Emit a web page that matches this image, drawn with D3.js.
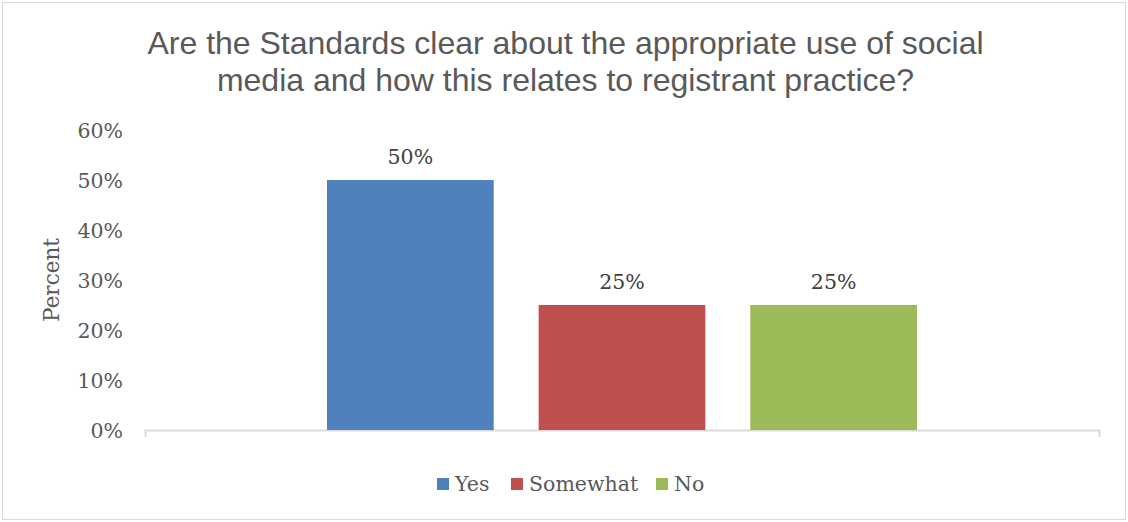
<!DOCTYPE html>
<html>
<head>
<meta charset="utf-8">
<script src="https://cdn.jsdelivr.net/npm/d3@7"></script>
<style>
  html, body { margin: 0; padding: 0; background: #ffffff; }
  svg { display: block; }
</style>
</head>
<body>
<svg id="chart" width="1128" height="522"></svg>
<script>
// Survey responses
const category = "Response";
const seriesNames = ["Yes", "Somewhat", "No"];
const seriesValues = [0.50, 0.25, 0.25];
const seriesColors = ["#4F81BD", "#C0504D", "#9BBB59"];
const yTicks = [0, 0.1, 0.2, 0.3, 0.4, 0.5, 0.6];
const titleLines = [
  "Are the Standards clear about the appropriate use of social",
  "media and how this relates to registrant practice?"
];
const yAxisTitle = "Percent";

const svg = d3.select("#chart");
const W = 1128, H = 522;
const plot = { left: 145, right: 1099, top: 130, bottom: 430 };
const serif = "'DejaVu Serif', serif";
const textColor = "#595959";

// outer chart frame
svg.append("rect")
  .attr("x", 2.5).attr("y", 2.5)
  .attr("width", W - 5).attr("height", H - 5)
  .attr("fill", "#fff")
  .attr("stroke", "#d9d9d9").attr("stroke-width", 1);

// title
const title = svg.append("text")
  .attr("text-anchor", "middle")
  .attr("font-family", "'Liberation Sans', Arial, sans-serif")
  .attr("font-size", 32)
  .attr("fill", textColor);
titleLines.forEach((line, i) => {
  title.append("tspan").attr("x", 565.5).attr("y", 54 + i * 37).text(line);
});

// scales
const y = d3.scaleLinear().domain([0, 0.6]).range([plot.bottom, plot.top]);
const x0 = d3.scaleBand().domain([category])
  .range([plot.left, plot.right]).paddingInner(0).paddingOuter(0.3085);
const x1 = d3.scaleBand().domain(seriesNames)
  .range([0, x0.bandwidth()]).paddingInner(0.2123).paddingOuter(0);
const color = d3.scaleOrdinal().domain(seriesNames).range(seriesColors);

// y axis labels (no axis line)
const yAxis = d3.axisLeft(y).tickValues(yTicks)
  .tickFormat(d3.format(".0%")).tickSize(0).tickPadding(0);
const yg = svg.append("g").attr("transform", `translate(123,0)`).call(yAxis);
yg.select(".domain").remove();
yg.selectAll("text")
  .attr("font-family", serif).attr("font-size", 20.5)
  .attr("fill", textColor).attr("dy", "0.36em");

// y axis title
svg.append("text")
  .attr("transform", `translate(59,280) rotate(-90)`)
  .attr("text-anchor", "middle")
  .attr("font-family", serif).attr("font-size", 21.5)
  .attr("fill", textColor)
  .text(yAxisTitle);

// x axis baseline with end ticks
const xAxis = d3.axisBottom(x0).tickValues([]).tickSizeOuter(7);
const xg = svg.append("g").attr("transform", `translate(0,${plot.bottom})`).call(xAxis);
xg.select(".domain").attr("stroke", "#d9d9d9").attr("stroke-width", 2);

// bars
const data = seriesNames.map((name, i) => ({ name, value: seriesValues[i] }));
const group = svg.append("g").attr("transform", `translate(${x0(category)},0)`);
group.selectAll("rect").data(data).join("rect")
  .attr("x", d => x1(d.name))
  .attr("y", d => y(d.value))
  .attr("width", x1.bandwidth())
  .attr("height", d => y(0) - y(d.value))
  .attr("fill", d => color(d.name));

// data labels
group.selectAll("text.label").data(data).join("text")
  .attr("class", "label")
  .attr("x", d => x1(d.name) + x1.bandwidth() / 2)
  .attr("y", d => y(d.value) - 16)
  .attr("text-anchor", "middle")
  .attr("font-family", serif).attr("font-size", 20.5)
  .attr("fill", "#404040")
  .text(d => d3.format(".0%")(d.value));

// legend
const legendItems = [
  { name: "Yes", x: 437 },
  { name: "Somewhat", x: 511 },
  { name: "No", x: 656 }
];
const legend = svg.append("g");
legendItems.forEach(item => {
  legend.append("rect")
    .attr("x", item.x).attr("y", 478)
    .attr("width", 12).attr("height", 12)
    .attr("fill", color(item.name));
  legend.append("text")
    .attr("x", item.x + 18).attr("y", 491)
    .attr("font-family", serif).attr("font-size", 20.5)
    .attr("fill", textColor)
    .text(item.name);
});
</script>
</body>
</html>
